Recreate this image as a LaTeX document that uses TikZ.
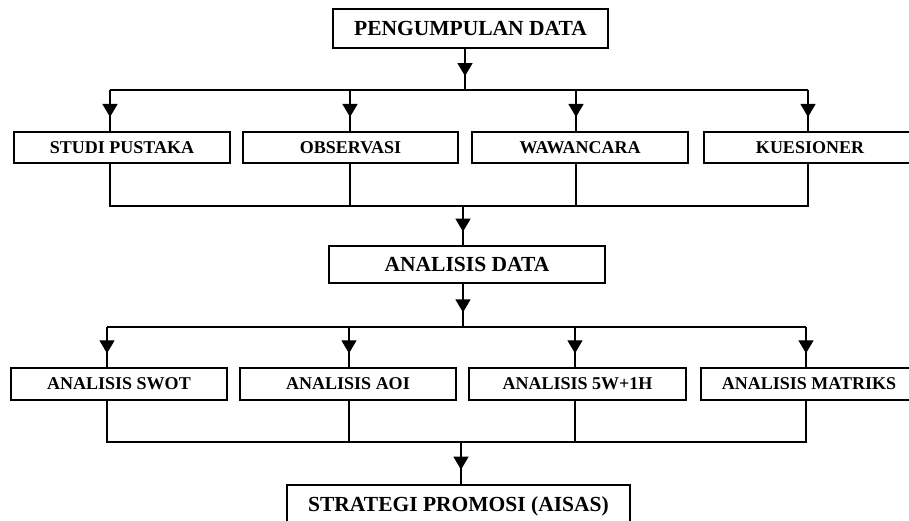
\documentclass[tikz,border=0pt]{standalone}
\usepackage{fontspec}
\setmainfont{Liberation Serif}
\usetikzlibrary{arrows.meta,decorations.markings}

\tikzset{
  box/.style={draw, line width=2.2pt, minimum height=31pt, inner sep=0pt,
    font=\bfseries\fontsize{18}{20}\selectfont},
  bigbox/.style={box, font=\bfseries\fontsize{21.5}{24}\selectfont},
  line/.style={line width=1.3pt},
  flow/.style={line, postaction={decorate}, decoration={markings,
    mark=at position 0.66 with {\arrow{Triangle[width=15pt,length=13pt]}}}}
}

\begin{document}
\begin{tikzpicture}[x=1pt,y=-1pt]
\useasboundingbox (0,0) rectangle (909,521);
\clip (0,0) rectangle (909,521);

\node[bigbox, minimum width=275pt, minimum height=39pt] (pd) at (470.5,28.5) {PENGUMPULAN DATA};
\node[box, minimum width=216pt] (sp) at (122,147.5) {STUDI PUSTAKA};
\node[box, minimum width=215pt] (ob) at (350.5,147.5) {OBSERVASI};
\node[box, minimum width=216pt] (ww) at (580,147.5) {WAWANCARA};
\node[box, minimum width=212pt] (ks) at (810,147.5) {KUESIONER};
\node[bigbox, minimum width=276pt, minimum height=37pt] (ad) at (467,264.5) {ANALISIS DATA};
\node[box, minimum width=216pt, minimum height=32pt] (sw) at (119,384) {ANALISIS SWOT};
\node[box, minimum width=216pt, minimum height=32pt] (aoi) at (348,384) {ANALISIS AOI};
\node[box, minimum width=217pt, minimum height=32pt] (fw) at (577.5,384) {ANALISIS 5W+1H};
\node[box, minimum width=216pt, minimum height=32pt] (mt) at (809,384) {ANALISIS MATRIKS};
\node[bigbox, minimum width=343pt, minimum height=42pt] (st) at (458.5,506) {STRATEGI PROMOSI (AISAS)};

\coordinate (u0) at (465,90);
\coordinate (u1) at (110,90);
\coordinate (u2) at (350,90);
\coordinate (u3) at (576,90);
\coordinate (u4) at (808,90);
\coordinate (v0) at (463,206);
\coordinate (v1) at (110,206);
\coordinate (v2) at (350,206);
\coordinate (v3) at (576,206);
\coordinate (v4) at (808,206);
\coordinate (w0) at (463,327);
\coordinate (w1) at (107,327);
\coordinate (w2) at (349,327);
\coordinate (w3) at (575,327);
\coordinate (w4) at (806,327);
\coordinate (z0) at (461,442);
\coordinate (z1) at (107,442);
\coordinate (z2) at (349,442);
\coordinate (z3) at (575,442);
\coordinate (z4) at (806,442);

\draw [flow] (pd.south -| u0) -- (u0);
\draw [line] (u1) -- (u4);
\draw [flow] (u1) -- (sp.north -| u1);
\draw [flow] (u2) -- (ob.north -| u2);
\draw [flow] (u3) -- (ww.north -| u3);
\draw [flow] (u4) -- (ks.north -| u4);
\draw [line] (sp.south -| v1) -- (v1) -- (v4) -- (ks.south -| v4);
\draw [line] (ob.south -| v2) -- (v2);
\draw [line] (ww.south -| v3) -- (v3);
\draw [flow] (v0) -- (ad.north -| v0);

\draw [flow] (ad.south -| w0) -- (w0);
\draw [line] (w1) -- (w4);
\draw [flow] (w1) -- (sw.north -| w1);
\draw [flow] (w2) -- (aoi.north -| w2);
\draw [flow] (w3) -- (fw.north -| w3);
\draw [flow] (w4) -- (mt.north -| w4);
\draw [line] (sw.south -| z1) -- (z1) -- (z4) -- (mt.south -| z4);
\draw [line] (aoi.south -| z2) -- (z2);
\draw [line] (fw.south -| z3) -- (z3);
\draw [flow] (z0) -- (st.north -| z0);
\end{tikzpicture}
\end{document}
